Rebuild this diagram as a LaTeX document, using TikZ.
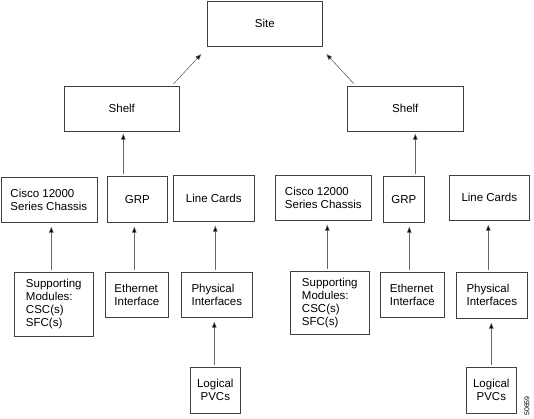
\documentclass[tikz,border=0pt]{standalone}
\usepackage{fontspec}
\setmainfont{Liberation Sans}
\usetikzlibrary{arrows.meta,calc}
\begin{document}
\begin{tikzpicture}[x=1pt,y=1pt,
  box/.style={draw=black!75, line width=0.6pt, inner sep=0pt, anchor=north west,
    align=left, font=\fontsize{11.5}{13}\selectfont},
  arr/.style={draw=black!60, line width=0.6pt, -{Triangle[length=6pt,width=4.5pt,fill=black]},
    shorten <=2pt, shorten >=4pt}]
\useasboundingbox (0,0) rectangle (534,-418);
% top levels
\node[box, minimum width=115, minimum height=45] (site) at (207,-0.5) {Site};
\node[box, minimum width=115, minimum height=45] (shelfL) at (64,-86) {Shelf};
\node[box, minimum width=116, minimum height=45] (shelfR) at (347,-86) {Shelf};
% left group
\node[box, minimum width=96, minimum height=45] (ciscoL) at (0.5,-177) {Cisco 12000\\Series Chassis};
\node[box, minimum width=60, minimum height=46] (grpL) at (107,-176) {GRP};
\node[box, minimum width=81, minimum height=46] (lineL) at (173,-175) {Line Cards};
\node[box, minimum width=79, minimum height=64] (supL) at (14,-272) {Supporting\\Modules:\\CSC(s)\\SFC(s)};
\node[box, minimum width=63, minimum height=45] (ethL) at (105,-272) {Ethernet\\Interface};
\node[box, minimum width=71, minimum height=45] (physL) at (181,-272) {Physical\\Interfaces};
\node[box, align=center, minimum width=50, minimum height=46] (logL) at (190,-367) {Logical\\PVCs};
% right group
\node[box, minimum width=96, minimum height=45] (ciscoR) at (275,-175) {Cisco 12000\\Series Chassis};
\node[box, minimum width=41, minimum height=46] (grpR) at (383,-176) {GRP};
\node[box, minimum width=80, minimum height=45] (lineR) at (449,-175) {Line Cards};
\node[box, minimum width=79, minimum height=63] (supR) at (290,-271) {Supporting\\Modules:\\CSC(s)\\SFC(s)};
\node[box, minimum width=64, minimum height=45] (ethR) at (380,-272) {Ethernet\\Interface};
\node[box, minimum width=71, minimum height=46] (physR) at (456,-272) {Physical\\Interfaces};
\node[box, align=center, minimum width=50, minimum height=46] (logR) at (466,-367) {Logical\\PVCs};
% figure number
\node[rotate=90, inner sep=0pt, font=\fontsize{7}{7}\selectfont] (fig) at (527,-406) {50659};
% connectors to site
\draw[arr, shorten <=3pt] ([xshift=-8pt]shelfL.north east) -- ([xshift=-3pt,yshift=-5pt]site.south west);
\draw[arr, shorten <=3pt] ([xshift=9pt]shelfR.north west) -- ([xshift=1pt,yshift=-5pt]site.south east);
% shelf <- GRP
\draw[arr, shorten >=2pt] ([xshift=1.5pt]shelfL.south |- grpL.north) -- ([xshift=1.5pt]shelfL.south);
\draw[arr, shorten >=2pt] ([xshift=10pt]shelfR.south |- grpR.north) -- ([xshift=10pt]shelfR.south);
% left verticals
\draw[arr] ([xshift=-2.5pt]supL.north) -- ([xshift=-2.5pt]supL.north |- ciscoL.south);
\draw[arr] ([xshift=-2.5pt]ethL.north) -- ([xshift=-2.5pt]ethL.north |- grpL.south);
\draw[arr] ([xshift=-1.5pt]physL.north) -- ([xshift=-1.5pt]physL.north |- lineL.south);
\draw[arr] ([xshift=-1pt]logL.north) -- ([xshift=-1pt]logL.north |- physL.south);
% right verticals
\draw[arr] ([xshift=-2.5pt]supR.north) -- ([xshift=-2.5pt]supR.north |- ciscoR.south);
\draw[arr] ([xshift=-3pt]ethR.north) -- ([xshift=-3pt]ethR.north |- grpR.south);
\draw[arr] ([xshift=-3.5pt]physR.north) -- ([xshift=-3.5pt]physR.north |- lineR.south);
\draw[arr] (logR.north) -- (logR.north |- physR.south);
\end{tikzpicture}
\end{document}
